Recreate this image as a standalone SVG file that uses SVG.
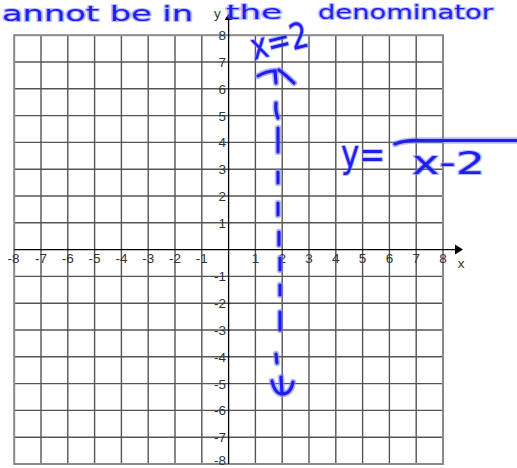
<svg xmlns="http://www.w3.org/2000/svg" xmlns:xlink="http://www.w3.org/1999/xlink" width="517" height="468" viewBox="0 0 517 468">
<style>
.grid{fill:none;stroke:#555;stroke-width:1.4}
.border{fill:none;stroke:#8a8a8a;stroke-width:2}
.axis{fill:none;stroke:#000;stroke-width:1.3}
.ah{fill:#000}
.num{font-family:"Liberation Sans",Arial,sans-serif;font-size:13.5px;fill:#333}
.xl{text-anchor:middle}
.yl{text-anchor:end}
.ink{fill:none;stroke:#1e1ef0;stroke-width:3.2;stroke-linecap:round;stroke-linejoin:round}
.halo{fill:none;stroke:#7d7dff;stroke-opacity:0.55;stroke-width:6.5;stroke-linecap:round;stroke-linejoin:round}
.hw{font-family:"DejaVu Sans","Liberation Sans",sans-serif;fill:#1e1ef0;stroke:#8080ff;stroke-opacity:0.55;stroke-width:2.2;paint-order:stroke;stroke-linejoin:round}
</style>
<defs>
<g id="strokes">
<path d="M258,76 Q266,71 275,71"/>
<path d="M275,71 L276,83"/>
<path d="M279,70 Q287,76 294,83"/>
<path d="M276,103 Q275,111 278,118"/>
<path d="M278,128 L278,152"/>
<path d="M278,172 L278,183"/>
<path d="M278,203 L278,215"/>
<path d="M279,232 L279,245"/>
<path d="M280,258 L280,270"/>
<path d="M280,285 L280,295"/>
<path d="M280,312 L280,330"/>
<path d="M276,354 L277,363"/>
<path d="M272,381 Q275,394 282,394 Q291,394 293,382"/>
<path d="M281,377 L282,393"/>
<path d="M395,144 Q405,140 420,140.5 L517,140.5"/>
</g>
</defs>
<rect width="517" height="468" fill="#fff"/>
<g id="grid">
<path class="grid" d="M41,35.2V464M67.8,35.2V464M94.6,35.2V464M121.4,35.2V464M148.2,35.2V464M175,35.2V464M201.8,35.2V464M255.4,35.2V464M282.2,35.2V464M309,35.2V464M335.8,35.2V464M362.6,35.2V464M389.4,35.2V464M416.2,35.2V464M14.2,62H443M14.2,88.8H443M14.2,115.6H443M14.2,142.4H443M14.2,169.2H443M14.2,196H443M14.2,222.8H443M14.2,276.4H443M14.2,303.2H443M14.2,330H443M14.2,356.8H443M14.2,383.6H443M14.2,410.4H443M14.2,437.2H443"/>
<rect class="border" x="14.2" y="35.2" width="428.8" height="428.8"/>
</g>
<g id="axes">
<path class="axis" d="M14.2,249.6H455M228.6,464V19"/>
<path class="ah" d="M455,244.6L463,249.6L455,254.6Z"/>
<path class="ah" d="M228.6,13.5L232.6,20L224.6,20Z"/>
<text class="num" x="214" y="18">y</text>
<text class="num xl" x="461" y="268">x</text>
</g>
<g id="x-labels" class="num xl">
<text x="13.5" y="263">-8</text><text x="41" y="263">-7</text><text x="67.8" y="263">-6</text><text x="94.6" y="263">-5</text>
<text x="121.4" y="263">-4</text><text x="148.2" y="263">-3</text><text x="175" y="263">-2</text><text x="201.8" y="263">-1</text>
<text x="255.4" y="263">1</text><text x="282.2" y="263">2</text><text x="309" y="263">3</text><text x="335.8" y="263">4</text>
<text x="362.6" y="263">5</text><text x="389.4" y="263">6</text><text x="416.2" y="263">7</text><text x="443" y="263">8</text>
</g>
<g id="y-labels" class="num yl">
<text x="226" y="40.2">8</text><text x="226" y="67">7</text><text x="226" y="93.8">6</text><text x="226" y="120.6">5</text>
<text x="226" y="147.4">4</text><text x="226" y="174.2">3</text><text x="226" y="201">2</text><text x="226" y="227.8">1</text>
<text x="226" y="281.4">-1</text><text x="226" y="308.2">-2</text><text x="226" y="335">-3</text><text x="226" y="361.8">-4</text>
<text x="226" y="388.6">-5</text><text x="226" y="415.4">-6</text><text x="226" y="442.2">-7</text><text x="226" y="465">-8</text>
</g>
<g id="annotations">
<use xlink:href="#strokes" class="halo"/>
<use xlink:href="#strokes" class="ink"/>
<text class="hw" x="2" y="21" font-size="21" textLength="191" lengthAdjust="spacingAndGlyphs">annot be in</text>
<text class="hw" x="226" y="19" font-size="19" textLength="56" lengthAdjust="spacingAndGlyphs">the</text>
<text class="hw" x="318" y="19" font-size="19" textLength="175" lengthAdjust="spacingAndGlyphs">denominator</text>
<text class="hw" x="254" y="60" font-size="36" textLength="58" lengthAdjust="spacingAndGlyphs" transform="rotate(-14 254 60)">x=2</text>
<text class="hw" x="341" y="167" font-size="38" textLength="44" lengthAdjust="spacingAndGlyphs">y=</text>
<text class="hw" x="412" y="174" font-size="32" textLength="73" lengthAdjust="spacingAndGlyphs">x-2</text>
</g>
</svg>
